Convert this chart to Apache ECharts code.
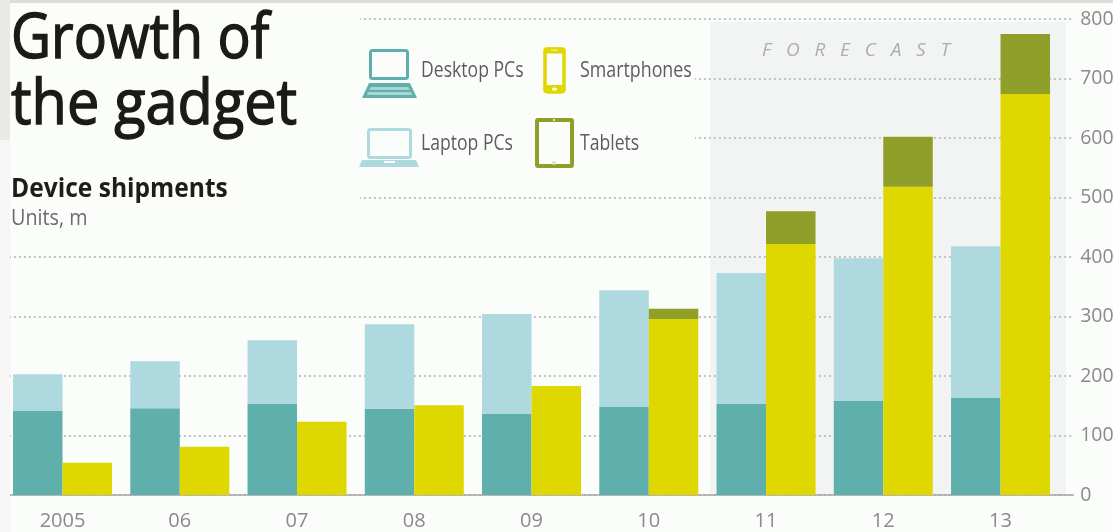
<!DOCTYPE html>
<html>
<head>
<meta charset="utf-8">
<style>html,body{margin:0;padding:0;background:#fbfdfb}#c{width:1113px;height:532px}</style>
<script src="https://cdn.jsdelivr.net/npm/echarts@6/dist/echarts.min.js"></script>
</head>
<body>
<div id="c"></div>
<script>
const years = ['2005','06','07','08','09','10','11','12','13'];
const desktop = [141,146,153,145,136,148,153,158,163];
const laptop = [62,79,107,142,168,196,220,240,255];
const smartphones = [54,81,123,151,183,296,422,518,674];
const tablets = [null,null,null,null,null,17,55,84,101];
const yTicks = [0,100,200,300,400,500,600,700,800];

const cTeal='#5fb0ac', cLight='#aed9de', cYellow='#dfd700', cOlive='#8f9f2a';
const FONT='"Open Sans",sans-serif';
const BG='#fbfdfb';

function rect(x,y,w,h,fill,z,r){return {type:'rect',silent:true,z:z,shape:{x,y,width:w,height:h,r:r||0},style:{fill}};}
function frame(x,y,w,h,stroke,lw,r,z){return {type:'rect',silent:true,z:z||6,shape:{x,y,width:w,height:h,r:r||0},style:{fill:'none',stroke,lineWidth:lw}};}
function txt(x,y,t,size,fill,weight,sx,thick){
  const style={text:t,font:(weight||'normal')+' '+size+'px '+FONT,fill,verticalAlign:'middle',align:'left'};
  if(thick){style.stroke=fill;style.lineWidth=thick;}
  return {type:'text',silent:true,z:6,x,y,scaleX:sx||1,originX:0,originY:0,style};
}
function poly(pts,fill,z){return {type:'polygon',silent:true,z:z||6,shape:{points:pts},style:{fill}};}

const graphics=[
  rect(710,22,356,473,'#f2f3f3',-1),
  rect(0,0,360,232,BG,1),
  rect(360,28,335,140,BG,1),
  rect(0,0,1113,3,'#dcdcd8',20),
  rect(0,0,10,140,'#e9e9e6',20),
  rect(0,140,10,392,'#f6f6f6',20),
  {type:'line',silent:true,z:3,shape:{x1:1058,y1:495,x2:1074,y2:495},style:{stroke:'#a9a5a5',lineWidth:1.5}},
  txt(11,40,'Growth of',62,'#1c1a18','normal',0.89,1.4),
  txt(11,106,'the gadget',62,'#1c1a18','normal',0.93,1.4),
  txt(11,189,'Device shipments',27,'#1f1d1b','bold',0.91),
  txt(11,219,'Units, m',21,'#6b6b6b','normal',0.94),
  txt(421,71,'Desktop PCs',22,'#5c5c5c','normal',0.8),
  txt(421,144,'Laptop PCs',22,'#5c5c5c','normal',0.8),
  txt(580,71,'Smartphones',22,'#5c5c5c','normal',0.81),
  txt(580,144,'Tablets',22,'#5c5c5c','normal',0.8),
  txt(762,51,'F   O   R   E   C   A   S   T',19,'#aeaeae','italic',1),
  // desktop icon
  frame(370.5,50.5,37,28,cTeal,3,2),
  poly([[369,83],[410,83],[417,98],[362,98]],cTeal),
  poly([[371,87],[408,87],[410,90],[369,90]],'#a9d6d3'),
  poly([[368,92],[411,92],[412,95],[367,95]],'#a9d6d3'),
  // laptop icon
  frame(368.5,129.5,42,28,cLight,3,2),
  poly([[362,160],[416,160],[419,167],[359,167]],cLight),
  rect(384,161,11,2,BG,7),
  // smartphone icon
  frame(545,49,19,43,cYellow,3.5,3),
  rect(543.5,47.5,22,6,cYellow,6,2),
  rect(543.5,85,22,8,cYellow,6,2),
  rect(551,49.5,7,1.5,'#f0ea80',7),
  rect(552,87.5,5,3,BG,7,1.5),
  // tablet icon
  frame(537,120,35,46,cOlive,4,1),
  rect(552,161,4,4,'#dfe5b5',7,2),
  rect(553,119,2,2,'#dfe5b5',7),
];

const chart=echarts.init(document.getElementById('c'),null,{renderer:'canvas'});
function bar(name,data,stack,color){return {name,type:'bar',stack,data,barWidth:49.5,barGap:'0%',z:3,itemStyle:{color},emphasis:{disabled:true}};}
chart.setOption({
  animation:false,
  backgroundColor:BG,
  grid:{left:3.9,top:19,width:1055.25,height:476,containLabel:false,outerBoundsMode:'none'},
  xAxis:{type:'category',data:years,
    axisLine:{show:true,lineStyle:{color:'#a9a5a5',width:1.5}},
    axisTick:{show:false},
    axisLabel:{color:'#8a8a8a',fontSize:20,fontFamily:FONT,margin:16,interval:0},z:3},
  yAxis:{type:'value',position:'right',min:0,max:800,interval:100,
    axisLine:{show:false},
    axisTick:{show:true,length:13,lineStyle:{color:'#c2c2c2',type:[2,3],width:2}},
    axisLabel:{color:'#8a8a8a',fontSize:19.5,fontFamily:FONT,margin:21,
      formatter:v=>yTicks.includes(v)?String(v):''},
    splitLine:{show:true,lineStyle:{color:'#c2c2c2',type:[2,3],width:2}}},
  graphic:graphics,
  series:[
    bar('Desktop PCs',desktop,'pc',cTeal),
    bar('Laptop PCs',laptop,'pc',cLight),
    bar('Smartphones',smartphones,'mobile',cYellow),
    bar('Tablets',tablets,'mobile',cOlive),
  ]
});
</script>
</body>
</html>
